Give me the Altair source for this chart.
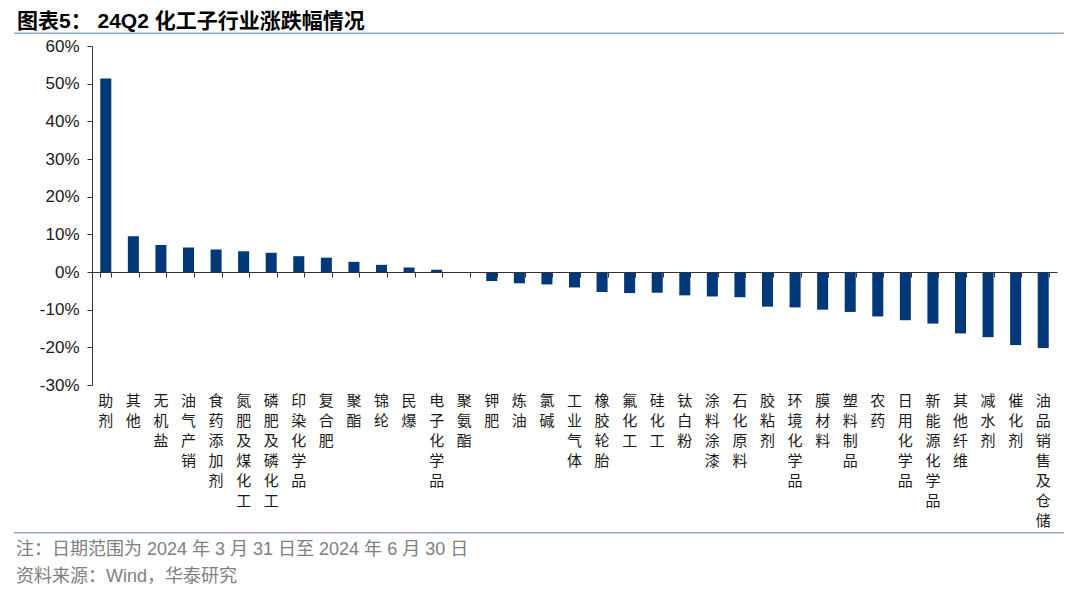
import altair as alt
import pandas as pd

categories = ["助剂", "其他", "无机盐", "油气产销", "食药添加剂", "氮肥及煤化工", "磷肥及磷化工",
              "印染化学品", "复合肥", "聚酯", "锦纶", "民爆", "电子化学品", "聚氨酯", "钾肥", "炼油",
              "氯碱", "工业气体", "橡胶轮胎", "氟化工", "硅化工", "钛白粉", "涂料涂漆", "石化原料",
              "胶粘剂", "环境化学品", "膜材料", "塑料制品", "农药", "日用化学品", "新能源化学品",
              "其他纤维", "减水剂", "催化剂", "油品销售及仓储"]
values = [51.4, 9.5, 7.2, 6.5, 6.0, 5.5, 5.1, 4.2, 3.8, 2.7, 1.9, 1.2, 0.6, -0.1, -2.4, -3.0,
          -3.3, -4.1, -5.3, -5.6, -5.5, -6.2, -6.5, -6.7, -9.2, -9.4, -10.0, -10.6, -11.8, -12.8,
          -13.7, -16.3, -17.3, -19.4, -20.2]
y_ticks = [-30, -20, -10, 0, 10, 20, 30, 40, 50, 60]
title_text = "图表5： 24Q2 化工子行业涨跌幅情况"
note_text = "注：日期范围为 2024 年 3 月 31 日至 2024 年 6 月 30 日"
source_text = "资料来源：Wind，华泰研究"

df = pd.DataFrame({"cat": categories, "val": values})

W, H = 965, 339
zero_offset = -H * 30 / 90
AX = "#333333"
LAT = "Liberation Sans, Arial, Noto Sans CJK SC"
CJK = "Noto Sans CJK SC"

xscale = alt.Scale(paddingInner=0.6, paddingOuter=0.3)
yscale = alt.Scale(domain=[-30, 60], nice=False)

bars = alt.Chart(df).mark_bar(color="#00387A").encode(
    x=alt.X("cat:N", sort=None, scale=xscale,
            axis=alt.Axis(title=None, orient="bottom", labelAngle=0,
                          labelExpr="split(datum.label, '')",
                          domain=False, ticks=False, labelFont=CJK, labelFontSize=15,
                          labelLineHeight=20, labelBaseline="top", labelPadding=8,
                          labelColor="#1a1a1a")),
    y=alt.Y("val:Q", scale=yscale,
            axis=alt.Axis(title=None, values=y_ticks, labelExpr="datum.value + '%'",
                          grid=False, domainColor=AX, tickColor=AX, tickSize=5,
                          labelFont=LAT, labelFontSize=17, labelColor="#1a1a1a",
                          labelPadding=8)),
)

zero_axis = alt.Chart(df).mark_point(opacity=0).encode(
    x=alt.X("cat:N", sort=None, scale=xscale,
            axis=alt.Axis(title=None, orient="bottom", labels=False, domain=True, ticks=True,
                          tickBand="extent", tickSize=5, offset=zero_offset,
                          domainColor=AX, tickColor=AX, zindex=1)),
)

one = pd.DataFrame({"a": [0]})

title = alt.Chart(pd.DataFrame({"t": [title_text]})).mark_text(
    align="left", baseline="middle", fontSize=21, fontWeight="bold", font=LAT, color="#000000"
).encode(text="t:N", x=alt.value(-75), y=alt.value(-24))

note = alt.Chart(pd.DataFrame({"t": [note_text]})).mark_text(
    align="left", baseline="middle", fontSize=18, font=LAT, color="#808080"
).encode(text="t:N", x=alt.value(-76), y=alt.value(504))

source = alt.Chart(pd.DataFrame({"t": [source_text]})).mark_text(
    align="left", baseline="middle", fontSize=18, font=LAT, color="#808080"
).encode(text="t:N", x=alt.value(-76), y=alt.value(531))

top_rule = alt.Chart(one).mark_rule(color="#8ea9cd", strokeWidth=1.5).encode(
    x=alt.value(-78), x2=alt.value(972), y=alt.value(-12.7))
bottom_rule = alt.Chart(one).mark_rule(color="#8ea9cd", strokeWidth=1.5).encode(
    x=alt.value(-78), x2=alt.value(972), y=alt.value(486.7))

chart = alt.layer(bars, zero_axis, title, note, source, top_rule, bottom_rule).resolve_axis(
    x="independent"
).properties(
    width=W, height=H,
    autosize=alt.AutoSizeParams(type="none"),
    padding={"left": 84, "top": 38, "right": 8, "bottom": 207},
).configure_view(stroke=None).configure_axis(grid=False)

chart.save("out.html", embed_options={"renderer": "svg", "actions": False})
